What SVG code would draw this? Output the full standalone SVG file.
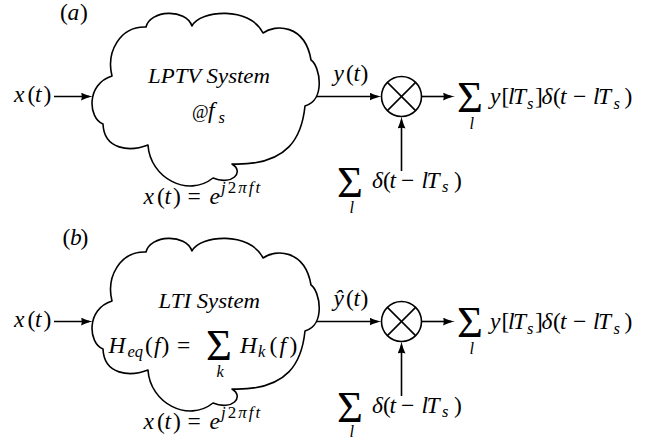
<svg xmlns="http://www.w3.org/2000/svg" width="668" height="439" viewBox="0 0 668 439">
<style>
  text { font-family: 'Liberation Serif', serif; font-size: 23.5px; fill: #000; }
  .i { font-style: italic; }
  .sub { font-size: 16.5px; }
  .sup { font-size: 17px; letter-spacing: 2px; }
  .big { font-size: 44.5px; font-style: normal; }
  .txt { font-size: 22px; font-style: italic; }
  .cloud { fill: #fff; stroke: #000; stroke-width: 1.6; stroke-linejoin: round; }
  .wire { fill: none; stroke: #000; stroke-width: 1.6; marker-end: url(#ah); }
  .mul { fill: #fff; stroke: #000; stroke-width: 1.6; }
  .x { stroke: #000; stroke-width: 1.6; }
</style>
<defs>
  <path id="cloudShape" d="M103,124 C88,118 86,84 112,76 C106,52 120,26 146,27 C150,10 186,8 192,26 C200,10 250,6 263,33 C275,24 305,24 311,60 C320,66 326,100 305,106 C302,135 290,166 232,164 C245,172 232,186 213,178 C188,198 150,178 148,145 C130,152 104,150 103,124 Z"/>
  <marker id="ah" viewBox="0 0 12 8" refX="8" refY="4" markerWidth="12" markerHeight="8" markerUnits="userSpaceOnUse" orient="auto">
    <path d="M12,4 C8.5,4.6 3.5,6.2 0,8 C1,5.5 1,2.5 0,0 C3.5,1.8 8.5,3.4 12,4 Z" fill="#000"/>
  </marker>
</defs>
<rect width="668" height="439" fill="#fff"/>

<!-- ===== Panel (a) ===== -->
<g id="label-a">
  <text font-family="Liberation Serif" y="19.5"><tspan x="60">(</tspan><tspan class="i" x="67.5">a</tspan><tspan x="80">)</tspan></text>
</g>
<g id="input-a">
  <text font-family="Liberation Serif" y="101.5"><tspan class="i" x="14">x</tspan><tspan x="27.5">(</tspan><tspan class="i" x="35">t</tspan><tspan x="43.5">)</tspan></text>
</g>
<g id="lptv-system">
  <use href="#cloudShape" class="cloud"/>
  <text font-family="Liberation Serif" class="txt" x="148" y="83" textLength="122" lengthAdjust="spacingAndGlyphs">LPTV System</text>
  <text font-family="Liberation Serif" y="118"><tspan x="192" font-size="18">@</tspan><tspan class="i" x="208">f</tspan><tspan class="i sub" x="218.5" y="122.5">s</tspan></text>
</g>
<g id="excitation-a">
  <text font-family="Liberation Serif" y="204"><tspan class="i" x="143.5">x</tspan><tspan x="157">(</tspan><tspan class="i" x="164.5">t</tspan><tspan x="173">)</tspan><tspan x="187.5">=</tspan><tspan class="i" x="209.5">e</tspan><tspan class="sup" x="221" y="192.5"><tspan class="i">j</tspan>2<tspan class="i">πft</tspan></tspan></text>
</g>
<g id="output-label-a">
  <text font-family="Liberation Serif" y="80.5"><tspan class="i" x="333.5">y</tspan><tspan x="346">(</tspan><tspan class="i" x="353.5">t</tspan><tspan x="360.5">)</tspan></text>
</g>
<g id="multiplier-a">
  <circle class="mul" cx="401.5" cy="96.5" r="20"/>
  <line class="x" x1="387.4" y1="82.4" x2="415.6" y2="110.6"/>
  <line class="x" x1="415.6" y1="82.4" x2="387.4" y2="110.6"/>
</g>
<g id="sampled-output-a">
  <text font-family="Liberation Serif" y="104"><tspan class="big" x="457" y="112">Σ</tspan><tspan class="i sub" x="469.5" y="129">l</tspan><tspan class="i" x="490" y="104">y</tspan><tspan x="501.5">[</tspan><tspan class="i" x="508">l</tspan><tspan class="i" x="513">T</tspan><tspan class="i sub" x="527" y="108.5">s</tspan><tspan x="535" y="104">]</tspan><tspan class="i" x="541.5">δ</tspan><tspan x="553">(</tspan><tspan class="i" x="560">t</tspan><tspan x="573">−</tspan><tspan class="i" x="593">l</tspan><tspan class="i" x="598">T</tspan><tspan class="i sub" x="613.5" y="108.5">s</tspan><tspan x="624.5" y="104">)</tspan></text>
</g>
<g id="impulse-train-a">
  <text font-family="Liberation Serif" y="187.5"><tspan class="big" x="337" y="196.5">Σ</tspan><tspan class="i sub" x="349.5" y="213">l</tspan><tspan class="i" x="372" y="187.5">δ</tspan><tspan x="383">(</tspan><tspan class="i" x="389.5">t</tspan><tspan x="401">−</tspan><tspan class="i" x="421.5">l</tspan><tspan class="i" x="426.5">T</tspan><tspan class="i sub" x="442" y="192">s</tspan><tspan x="454" y="187.5">)</tspan></text>
</g>

<!-- ===== Panel (b) ===== -->
<g id="label-b">
  <text font-family="Liberation Serif" y="244.5"><tspan x="62.5">(</tspan><tspan class="i" x="70">b</tspan><tspan x="80.5">)</tspan></text>
</g>
<g id="input-b">
  <text font-family="Liberation Serif" y="326.5"><tspan class="i" x="14">x</tspan><tspan x="27.5">(</tspan><tspan class="i" x="35">t</tspan><tspan x="43.5">)</tspan></text>
</g>
<g id="lti-system">
  <use href="#cloudShape" class="cloud" y="225"/>
  <text font-family="Liberation Serif" class="txt" x="158.5" y="307.5" textLength="101.5" lengthAdjust="spacingAndGlyphs">LTI System</text>
  <text font-family="Liberation Serif" y="352.5"><tspan class="i" x="108.5">H</tspan><tspan class="i sub" x="127.5" y="357">eq</tspan><tspan x="145" y="352.5">(</tspan><tspan class="i" x="154">f</tspan><tspan x="161.5">)</tspan><tspan x="177">=</tspan><tspan class="big" x="206" y="360">Σ</tspan><tspan class="i sub" x="216.5" y="377">k</tspan><tspan class="i" x="240" y="352.5">H</tspan><tspan class="i sub" x="258" y="357">k</tspan><tspan x="269.5" y="352.5">(</tspan><tspan class="i" x="279.5">f</tspan><tspan x="289.5">)</tspan></text>
</g>
<g id="excitation-b">
  <text font-family="Liberation Serif" y="429"><tspan class="i" x="143.5">x</tspan><tspan x="157">(</tspan><tspan class="i" x="164.5">t</tspan><tspan x="173">)</tspan><tspan x="187.5">=</tspan><tspan class="i" x="209.5">e</tspan><tspan class="sup" x="221" y="417.5"><tspan class="i">j</tspan>2<tspan class="i">πft</tspan></tspan></text>
</g>
<g id="output-label-b">
  <text font-family="Liberation Serif" y="305.5"><tspan class="i" x="333.5">ŷ</tspan><tspan x="346">(</tspan><tspan class="i" x="353.5">t</tspan><tspan x="360.5">)</tspan></text>
</g>
<g id="multiplier-b">
  <circle class="mul" cx="401.5" cy="321.5" r="20"/>
  <line class="x" x1="387.4" y1="307.4" x2="415.6" y2="335.6"/>
  <line class="x" x1="415.6" y1="307.4" x2="387.4" y2="335.6"/>
</g>
<g id="sampled-output-b">
  <text font-family="Liberation Serif" y="329"><tspan class="big" x="457" y="337">Σ</tspan><tspan class="i sub" x="469.5" y="354">l</tspan><tspan class="i" x="490" y="329">y</tspan><tspan x="501.5">[</tspan><tspan class="i" x="508">l</tspan><tspan class="i" x="513">T</tspan><tspan class="i sub" x="527" y="333.5">s</tspan><tspan x="535" y="329">]</tspan><tspan class="i" x="541.5">δ</tspan><tspan x="553">(</tspan><tspan class="i" x="560">t</tspan><tspan x="573">−</tspan><tspan class="i" x="593">l</tspan><tspan class="i" x="598">T</tspan><tspan class="i sub" x="613.5" y="333.5">s</tspan><tspan x="624.5" y="329">)</tspan></text>
</g>
<g id="impulse-train-b">
  <text font-family="Liberation Serif" y="412.5"><tspan class="big" x="337" y="421.5">Σ</tspan><tspan class="i sub" x="349.5" y="436.5">l</tspan><tspan class="i" x="372" y="412.5">δ</tspan><tspan x="383">(</tspan><tspan class="i" x="389.5">t</tspan><tspan x="401">−</tspan><tspan class="i" x="421.5">l</tspan><tspan class="i" x="426.5">T</tspan><tspan class="i sub" x="442" y="417">s</tspan><tspan x="454" y="412.5">)</tspan></text>
</g>

<!-- ===== Connectors ===== -->
<g id="connectors">
  <path class="wire" d="M54,96.5 H89"/>
  <path class="wire" d="M316,96.5 H377.5"/>
  <path class="wire" d="M421.5,96.5 H451"/>
  <path class="wire" d="M401.5,171 V120.5"/>
  <path class="wire" d="M54,321.5 H89"/>
  <path class="wire" d="M316,321.5 H377.5"/>
  <path class="wire" d="M421.5,321.5 H451"/>
  <path class="wire" d="M401.5,396 V345.5"/>
</g>
</svg>
